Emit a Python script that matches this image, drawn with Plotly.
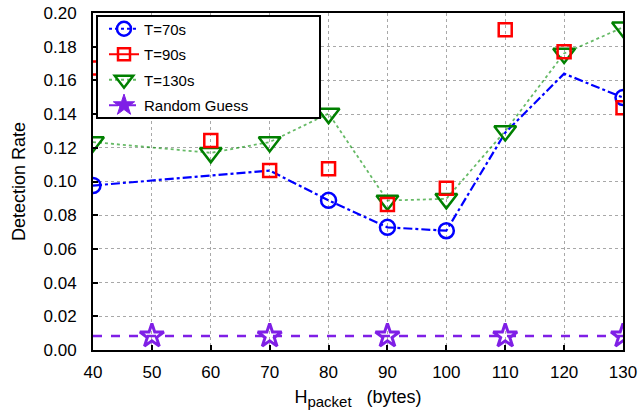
import plotly.graph_objects as go

# ---- data ----
h_packet = [40, 50, 60, 70, 80, 90, 100, 110, 120, 130]

t70_x = [40, 70, 80, 90, 100, 110, 120, 130]
t70_y = [0.0976, 0.1065, 0.0888, 0.0728, 0.0708, 0.1290, 0.1640, 0.1498]
t70_marker_x = [40, 80, 90, 100, 130]

t90_x = [40, 60, 70, 80, 90, 100, 110, 120, 130]
t90_y = [0.1674, 0.1244, 0.1065, 0.1075, 0.0863, 0.0960, 0.1900, 0.1770, 0.1437]

t130_x = [40, 60, 70, 80, 90, 100, 110, 120, 130]
t130_y = [0.1234, 0.1170, 0.1234, 0.1403, 0.0887, 0.0897, 0.1300, 0.1760, 0.1915]

random_guess = 1 / 120
rg_y = [random_guess] * len(h_packet)
rg_marker_x = [50, 70, 90, 110, 130]

x_ticks = [40, 50, 60, 70, 80, 90, 100, 110, 120, 130]
y_ticks = [0.00, 0.02, 0.04, 0.06, 0.08, 0.10, 0.12, 0.14, 0.16, 0.18, 0.20]

BLUE = "#0000ff"
RED = "#ff0000"
GREEN = "#008000"
PURPLE = "#7f1fe6"
FONT = "Liberation Sans, Arial, Helvetica, sans-serif"

def pick(xs, ys, keep):
    return [y for x, y in zip(xs, ys) if x in keep]

fig = go.Figure()

# T=70s
fig.add_trace(go.Scatter(x=t70_x, y=t70_y, mode="lines", showlegend=False,
                         line=dict(color=BLUE, width=2.2, dash="dashdot")))
fig.add_trace(go.Scatter(x=t70_marker_x, y=pick(t70_x, t70_y, t70_marker_x), mode="markers",
                         showlegend=False,
                         marker=dict(symbol="circle-open", size=15, color=BLUE, line=dict(width=2.5, color=BLUE))))
# T=130s
fig.add_trace(go.Scatter(x=t130_x, y=t130_y, mode="lines+markers", showlegend=False,
                         line=dict(color="rgba(0,140,0,0.6)", width=1.8, dash="dot"),
                         marker=dict(symbol="triangle-down-open", size=19, color=GREEN,
                                     line=dict(width=2.5, color=GREEN))))
# T=90s
fig.add_trace(go.Scatter(x=t90_x, y=t90_y, mode="markers", showlegend=False,
                         marker=dict(symbol="square-open", size=13, color=RED, line=dict(width=2.5, color=RED))))
# Random guess
fig.add_trace(go.Scatter(x=h_packet, y=rg_y, mode="lines", showlegend=False,
                         line=dict(color=PURPLE, width=2.5, dash="dash")))
fig.add_trace(go.Scatter(x=rg_marker_x, y=pick(h_packet, rg_y, rg_marker_x), mode="markers",
                         showlegend=False,
                         marker=dict(symbol="star-open", size=18, color=PURPLE, line=dict(width=3, color=PURPLE))))

# legend entries
fig.add_trace(go.Scatter(x=[None], y=[None], mode="lines+markers", name="T=70s", legendgroup="a",
                         line=dict(color=BLUE, width=2, dash="dot"),
                         marker=dict(symbol="circle-open", size=14, color=BLUE, line=dict(width=2.5, color=BLUE))))
fig.add_trace(go.Scatter(x=[None], y=[None], mode="lines+markers", name="T=90s", legendgroup="b",
                         line=dict(color=RED, width=2),
                         marker=dict(symbol="square-open", size=12, color=RED, line=dict(width=2.5, color=RED))))
fig.add_trace(go.Scatter(x=[None], y=[None], mode="lines+markers", name="T=130s", legendgroup="c",
                         line=dict(color="rgba(0,140,0,0.6)", width=2, dash="dot"),
                         marker=dict(symbol="triangle-down-open", size=16, color=GREEN, line=dict(width=2.5, color=GREEN))))
fig.add_trace(go.Scatter(x=[None], y=[None], mode="lines+markers", name="Random Guess", legendgroup="d",
                         line=dict(color=PURPLE, width=2, dash="dash"),
                         marker=dict(symbol="star", size=16, color=PURPLE, line=dict(width=1, color=PURPLE))))

axis_common = dict(
    showline=True, linecolor="black", linewidth=2, mirror=True,
    ticks="inside", ticklen=5, tickwidth=1.5, tickcolor="black",
    showgrid=True, gridcolor="#a8a8a8", gridwidth=1, griddash="dot",
    zeroline=False, automargin=False, ticklabeloverflow="allow",
    tickfont=dict(family=FONT, size=17, color="black"),
)

fig.update_xaxes(range=[40, 130], tickvals=x_ticks, ticklabelstandoff=6, **axis_common,
                 title=dict(text="H<sub><span style='font-size:15px'>packet</span></sub>&nbsp;&nbsp;&nbsp;(bytes)",
                            font=dict(family=FONT, size=18, color="black"), standoff=9))
fig.update_yaxes(range=[0, 0.2], tickvals=y_ticks, tickformat=".2f", ticklabelstandoff=11, **axis_common,
                 title=dict(text="Detection Rate", font=dict(family=FONT, size=18, color="black"),
                            standoff=13))

fig.update_layout(
    width=639, height=419,
    margin=dict(l=93, r=16, t=13, b=69),
    paper_bgcolor="white", plot_bgcolor="white",
    font=dict(family=FONT, color="black"),
    shapes=[dict(type="rect", xref="paper", yref="paper",
                 x0=4 / 530, x1=227 / 530, y0=1 - 105 / 337, y1=1 - 3 / 337,
                 fillcolor="white", line=dict(color="black", width=2), layer="above")],
    legend=dict(x=11 / 530, y=1 + 0.5 / 337, xanchor="left", yanchor="top",
                bgcolor="rgba(0,0,0,0)", borderwidth=0,
                font=dict(family=FONT, size=15, color="black"),
                itemsizing="trace", tracegroupgap=3),
)

fig.write_html(
    "out.html",
    config={"displayModeBar": False},
    post_script="document.body.style.margin='0';document.body.style.overflow='hidden';",
)
